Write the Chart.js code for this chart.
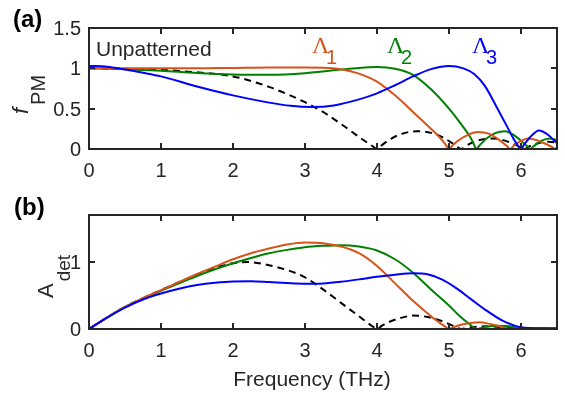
<!DOCTYPE html>
<html>
<head>
<meta charset="utf-8">
<script src="https://cdn.jsdelivr.net/npm/chart.js@4.4.1/dist/chart.umd.min.js"></script>
<style>
  html, body { margin: 0; padding: 0; background: #fff; }
  #wrap { position: relative; width: 565px; height: 399px; }
  #wrap canvas { position: absolute; left: 0; top: 0; }
</style>
</head>
<body>
<div id="wrap">
  <canvas id="pmChart" width="565" height="399"></canvas>
  <canvas id="detChart" width="565" height="399"></canvas>
</div>
<script>
// Frequency ticks (THz)
const freqTicks = [0, 1, 2, 3, 4, 5, 6];
const pmTicks = [0, 0.5, 1, 1.5];
const pmTickLabels = ['0', '0.5', '1', '1.5'];
const detTicks = [0, 1];
const detTickLabels = ['0', '1'];

// (a) phase matching factor f_PM, [frequency, value]
const pmUnpatterned = [[0,1.00],[0.5,0.995],[1,0.98],[1.5,0.95],[2,0.90],[2.5,0.77],[3,0.58],[3.25,0.46],[3.5,0.31],[3.75,0.15],[3.93,0.04],[4.0,0],[4.07,0.05],[4.2,0.13],[4.35,0.19],[4.55,0.22],[4.75,0.20],[4.9,0.15],[5.05,0.07],[5.12,0.025],[5.17,0],[5.22,0.03],[5.35,0.09],[5.5,0.125],[5.62,0.13],[5.75,0.11],[5.9,0.06],[6.0,0.02],[6.05,0],[6.1,0.025],[6.25,0.075],[6.38,0.09],[6.5,0.08]];
const pmL1 = [[0,1.00],[0.5,1.00],[1,1.00],[1.5,1.00],[2,1.005],[2.5,1.01],[3,1.01],[3.25,1.008],[3.5,0.99],[3.75,0.935],[4,0.835],[4.25,0.665],[4.5,0.46],[4.75,0.25],[4.9,0.115],[4.96,0.045],[5.0,0],[5.04,0.035],[5.12,0.10],[5.25,0.17],[5.4,0.21],[5.55,0.19],[5.7,0.11],[5.8,0.04],[5.85,0],[5.9,0.04],[6.0,0.10],[6.1,0.13],[6.22,0.11],[6.35,0.06],[6.44,0.02],[6.47,0],[6.5,0.025]];
const pmL2 = [[0,1.00],[0.5,0.99],[1,0.97],[1.5,0.943],[2,0.925],[2.5,0.92],[3,0.94],[3.5,0.985],[3.75,1.005],[4.0,1.015],[4.25,0.995],[4.5,0.92],[4.75,0.74],[5.0,0.50],[5.15,0.33],[5.3,0.14],[5.35,0.05],[5.38,0],[5.42,0.04],[5.52,0.13],[5.65,0.20],[5.78,0.22],[5.92,0.16],[6.04,0.07],[6.1,0.025],[6.13,0],[6.17,0.03],[6.28,0.10],[6.4,0.13],[6.5,0.11]];
const pmL3 = [[0,1.03],[0.25,1.02],[0.5,0.985],[0.75,0.945],[1,0.90],[1.5,0.775],[2,0.665],[2.5,0.575],[2.8,0.535],[3.1,0.52],[3.4,0.54],[3.75,0.615],[4,0.69],[4.25,0.79],[4.5,0.90],[4.75,0.99],[5.0,1.03],[5.2,1.00],[5.35,0.93],[5.5,0.78],[5.65,0.54],[5.8,0.29],[5.9,0.12],[5.96,0.04],[6.0,0],[6.04,0.05],[6.12,0.14],[6.25,0.23],[6.37,0.18],[6.5,0.07]];

// (b) detected amplitude A_det, [frequency, value]
const detUnpatterned = [[0,0],[0.25,0.17],[0.5,0.33],[0.75,0.46],[1,0.58],[1.25,0.70],[1.5,0.81],[1.75,0.91],[2,0.98],[2.2,1.00],[2.5,0.95],[2.75,0.88],[3,0.77],[3.25,0.59],[3.5,0.39],[3.75,0.19],[3.93,0.045],[4,0],[4.07,0.05],[4.2,0.12],[4.35,0.17],[4.5,0.20],[4.7,0.18],[4.9,0.12],[5.05,0.05],[5.12,0.015],[5.17,0],[5.3,0.025],[5.5,0.04],[5.7,0.03],[5.9,0.01],[6.05,0],[6.3,0.005],[6.5,0.005]];
const detL1 = [[0,0],[0.25,0.17],[0.5,0.33],[0.75,0.46],[1,0.58],[1.25,0.70],[1.5,0.82],[1.75,0.93],[2,1.04],[2.25,1.13],[2.5,1.20],[2.75,1.26],[3,1.29],[3.25,1.28],[3.5,1.23],[3.75,1.13],[4,0.94],[4.25,0.68],[4.5,0.42],[4.75,0.19],[4.9,0.07],[4.96,0.025],[5,0],[5.05,0.02],[5.15,0.06],[5.3,0.09],[5.42,0.10],[5.55,0.08],[5.7,0.04],[5.8,0.01],[5.85,0],[6.0,0.01],[6.2,0.01],[6.5,0]];
const detL2 = [[0,0],[0.25,0.17],[0.5,0.33],[0.75,0.45],[1,0.57],[1.25,0.68],[1.5,0.79],[1.75,0.89],[2,0.98],[2.25,1.06],[2.5,1.13],[2.75,1.18],[3,1.22],[3.25,1.24],[3.5,1.25],[3.75,1.23],[4,1.17],[4.25,1.04],[4.5,0.84],[4.75,0.59],[5,0.35],[5.15,0.19],[5.3,0.06],[5.38,0],[5.5,0.03],[5.65,0.05],[5.8,0.045],[5.95,0.02],[6.13,0],[6.3,0.005],[6.5,0]];
const detL3 = [[0,0],[0.25,0.17],[0.5,0.32],[0.75,0.44],[1,0.53],[1.25,0.60],[1.5,0.655],[1.75,0.69],[2,0.71],[2.25,0.713],[2.5,0.70],[2.75,0.685],[3,0.675],[3.25,0.68],[3.5,0.705],[3.75,0.74],[4,0.78],[4.25,0.81],[4.5,0.83],[4.7,0.815],[4.9,0.74],[5.1,0.61],[5.3,0.45],[5.5,0.29],[5.75,0.12],[6.0,0.025],[6.25,0.01],[6.5,0.01]];

const axisColor = '#262626';
const orange = '#D95319';
const green = '#008000';
const blue = '#0000FF';
const sans = '"Liberation Sans", Arial, Helvetica, sans-serif';
const serif = '"Liberation Serif", "Times New Roman", serif';

const toXY = (arr) => arr.map(p => ({ x: p[0], y: p[1] }));

const makeSets = (ref, l1, l2, l3) => [
    { data: toXY(l3), borderColor: blue },
    { data: toXY(l1), borderColor: orange },
    { data: toXY(l2), borderColor: green },
    { data: toXY(ref), borderColor: '#000', borderDash: [7, 5] }
].map(d => ({ ...d, borderWidth: 2, pointRadius: 0, fill: false, cubicInterpolationMode: 'monotone' }));

// Draws a MATLAB style box with inward ticks plus tick labels
const frameAxes = {
    id: 'frameAxes',
    afterDatasetsDraw(chart, args, opts) {
        const { ctx, chartArea: a, scales: { x, y } } = chart;
        ctx.save();
        ctx.strokeStyle = axisColor;
        ctx.lineWidth = 2;
        ctx.beginPath();
        freqTicks.forEach(v => {
            const px = Math.round(x.getPixelForValue(v));
            ctx.moveTo(px, a.bottom); ctx.lineTo(px, a.bottom - 6);
            ctx.moveTo(px, a.top); ctx.lineTo(px, a.top + 6);
        });
        opts.yTicks.forEach(v => {
            const py = Math.round(y.getPixelForValue(v));
            ctx.moveTo(a.left, py); ctx.lineTo(a.left + 6, py);
            ctx.moveTo(a.right, py); ctx.lineTo(a.right - 6, py);
        });
        ctx.stroke();
        ctx.strokeRect(a.left, a.top, a.right - a.left, a.bottom - a.top);

        ctx.fillStyle = axisColor;
        ctx.font = '20px ' + sans;
        ctx.textAlign = 'center';
        ctx.textBaseline = 'alphabetic';
        freqTicks.forEach(v => ctx.fillText(String(v), x.getPixelForValue(v), a.bottom + 28));
        ctx.textAlign = 'right';
        opts.yTicks.forEach((v, i) => ctx.fillText(opts.yLabels[i], a.left - 8, y.getPixelForValue(v) + 7));
        if (opts.extras) opts.extras(ctx);
        ctx.restore();
    }
};

// rotated label with subscript; tx runs up the page, ty is the baseline x
const rotLabel = (ctx, startY, parts) => {
    ctx.save();
    ctx.rotate(-Math.PI / 2);
    ctx.textAlign = 'left';
    ctx.textBaseline = 'alphabetic';
    let tx = -startY;
    parts.forEach(p => {
        ctx.font = p.font;
        ctx.fillText(p.text, tx + (p.gap || 0), p.base);
        tx += ctx.measureText(p.text).width + (p.gap || 0);
    });
    ctx.restore();
};

const drawPmText = (ctx) => {
    ctx.textAlign = 'left';
    ctx.fillStyle = '#000';
    ctx.font = 'bold 24px ' + sans;
    ctx.fillText('(a)', 13, 27);
    ctx.fillStyle = axisColor;
    ctx.font = '21px ' + sans;
    ctx.fillText('Unpatterned', 96, 56);
    // Lambda labels
    [[orange, '1', 312, 326], [green, '2', 387, 401], [blue, '3', 472, 486]].forEach(([c, s, xl, xs]) => {
        ctx.fillStyle = c;
        ctx.font = '24px ' + serif;
        ctx.fillText('\u039B', xl, 53);
        ctx.font = '20px ' + sans;
        ctx.fillText(s, xs, 64);
    });
    ctx.fillStyle = axisColor;
    rotLabel(ctx, 114, [
        { text: 'f', font: 'italic 22px ' + sans, base: 28 },
        { text: 'PM', font: '20px ' + sans, base: 45, gap: 3 }
    ]);
};

const drawDetText = (ctx) => {
    ctx.textAlign = 'left';
    ctx.fillStyle = '#000';
    ctx.font = 'bold 24px ' + sans;
    ctx.fillText('(b)', 14, 215);
    ctx.fillStyle = axisColor;
    ctx.font = '21px ' + sans;
    ctx.textAlign = 'center';
    ctx.fillText('Frequency (THz)', 312, 386);
    rotLabel(ctx, 298, [
        { text: 'A', font: '22px ' + sans, base: 53 },
        { text: 'det', font: '19px ' + sans, base: 70, gap: 2 }
    ]);
};

const baseOptions = (yMax, pad, yTicks, yLabels, extras) => ({
    responsive: false,
    animation: false,
    layout: { padding: pad },
    plugins: {
        legend: { display: false },
        tooltip: { enabled: false },
        frameAxes: { yTicks, yLabels, extras }
    },
    scales: {
        x: { type: 'linear', min: 0, max: 6.5, display: false },
        y: { type: 'linear', min: 0, max: yMax, display: false }
    }
});

new Chart(document.getElementById('pmChart'), {
    type: 'line',
    data: { datasets: makeSets(pmUnpatterned, pmL1, pmL2, pmL3) },
    options: baseOptions(1.5, { left: 89, right: 8, top: 28, bottom: 250 }, pmTicks, pmTickLabels, drawPmText),
    plugins: [frameAxes]
});

new Chart(document.getElementById('detChart'), {
    type: 'line',
    data: { datasets: makeSets(detUnpatterned, detL1, detL2, detL3) },
    options: baseOptions(1.7, { left: 89, right: 8, top: 215, bottom: 70 }, detTicks, detTickLabels, drawDetText),
    plugins: [frameAxes]
});
</script>
</body>
</html>
